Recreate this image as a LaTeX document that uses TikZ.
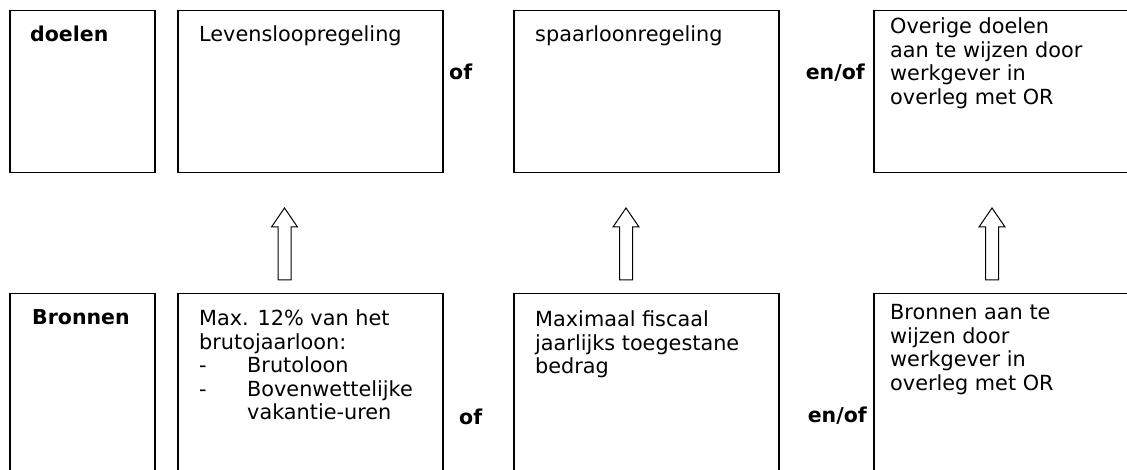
\documentclass[tikz,border=0pt]{standalone}
\usepackage{fontspec}
\setmainfont{DejaVu Sans}
\begin{document}
\begin{tikzpicture}[x=1pt,y=1pt,
  box/.style={draw=black, line width=1.5pt, rectangle, inner sep=0pt, anchor=north west},
  txt/.style={anchor=base west, inner sep=0pt, font=\fontsize{20.8}{23.5}\selectfont},
  lbl/.style={anchor=base west, inner sep=0pt, font=\fontsize{20.5}{23.5}\selectfont\bfseries},
  blockarrow/.style={draw=black, line width=1pt, fill=white, line join=miter}]
\clip (0,0) rectangle (1127,470);
\fill[white] (0,0) rectangle (1127,470);
% top row
\node[box, minimum width=145pt, minimum height=162pt] (d0) at (9,460) {};
\node[box, minimum width=265pt, minimum height=162pt] (d1) at (177,460) {};
\node[box, minimum width=265pt, minimum height=162pt] (d2) at (513,460) {};
\node[box, minimum width=300pt, minimum height=162pt] (d3) at (873,460) {};
% bottom row
\node[box, minimum width=145pt, minimum height=220pt] (b0) at (9,177) {};
\node[box, minimum width=265pt, minimum height=220pt] (b1) at (177,177) {};
\node[box, minimum width=265pt, minimum height=220pt] (b2) at (513,177) {};
\node[box, minimum width=300pt, minimum height=220pt] (b3) at (873,177) {};
% top texts
\node[lbl] (t0) at (30,428) {doelen};
\node[txt] (t1) at (199,428) {Levensloopregeling};
\node[txt] (t2) at (535,428) {spaarloonregeling};
\node[txt] (t3) at (890,436) {\begin{tabular}[t]{@{}l@{}}Overige doelen\\aan te wijzen door\\werkgever in\\overleg met OR\end{tabular}};
\node[lbl] (o1) at (449,390) {of};
\node[lbl, anchor=base east] (o2) at (865,390) {en/of};
% bottom texts
\node[lbl] (s0) at (32,145) {Bronnen};
\node[txt] (s1) at (199,144) {\begin{tabular}[t]{@{}l@{}}Max. 12\% van het\\brutojaarloon:\\\makebox[48pt][l]{-}Brutoloon\\\makebox[48pt][l]{-}Bovenwettelijke\\\hspace*{48pt}vakantie-uren\end{tabular}};
\node[txt] (s2) at (535,143) {\begin{tabular}[t]{@{}l@{}}Maximaal fiscaal\\jaarlijks toegestane\\bedrag\end{tabular}};
\node[txt] (s3) at (890,150) {\begin{tabular}[t]{@{}l@{}}Bronnen aan te\\wijzen door\\werkgever in\\overleg met OR\end{tabular}};
\node[lbl] (o3) at (459,45) {of};
\node[lbl, anchor=base east] (o4) at (867,47) {en/of};
% block arrows from sources to goals
\coordinate (a1) at (284.5,190);
\coordinate (a2) at (626,190);
\coordinate (a3) at (992,190);
\foreach \a in {a1,a2,a3}{
  \draw[blockarrow] (\a) ++(-6.5,0) -- ++(0,53) -- ++(-6.5,0) -- ++(13,19) -- ++(13,-19) -- ++(-6.5,0) -- ++(0,-53) -- cycle;
}
\end{tikzpicture}
\end{document}
